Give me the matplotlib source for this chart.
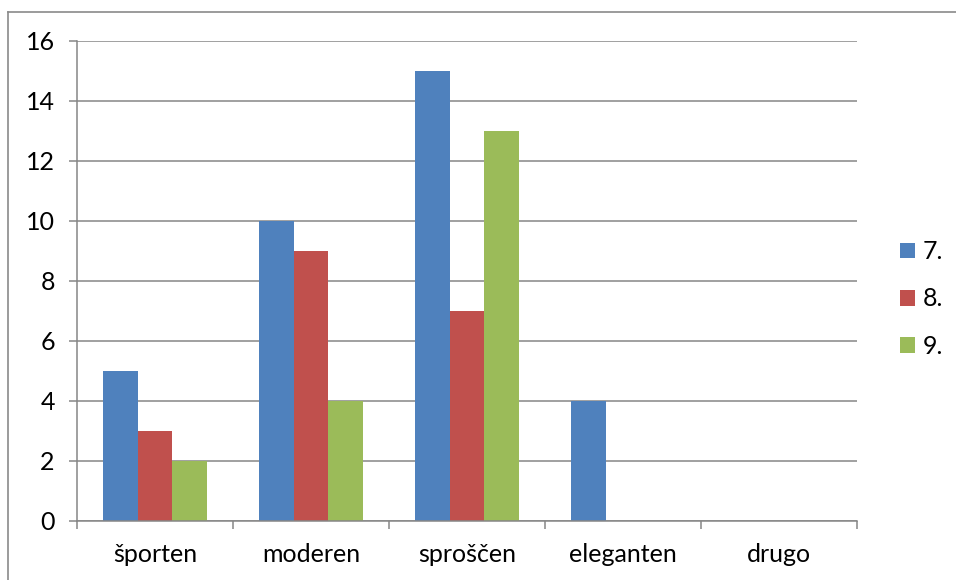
import matplotlib
matplotlib.use("Agg")
import matplotlib.pyplot as plt
import numpy as np
from matplotlib.lines import Line2D
from matplotlib.patches import Patch

categories = ["športen", "moderen", "sproščen", "eleganten", "drugo"]
series_names = ["7.", "8.", "9."]
s7 = [5, 10, 15, 4, 0]
s8 = [3, 9, 7, 0, 0]
s9 = [2, 4, 13, 0, 0]
yticks = [0, 2, 4, 6, 8, 10, 12, 14, 16]
colors = ["#4F81BD", "#C0504D", "#9BBB59"]

plt.rcParams['font.family'] = ['Lato', 'DejaVu Sans']
FS = 18
W, H = 956, 580
fig = plt.figure(figsize=(W / 100, H / 100), dpi=100)
ax = fig.add_axes([77 / W, 1 - 521 / H, (857 - 77) / W, (521 - 41) / H])

x = np.arange(len(categories))
bw = 1 / 4.5
for i, (vals, c) in enumerate(zip([s7, s8, s9], colors)):
    ax.bar(x + (i - 1) * bw, vals, width=bw, color=c, zorder=3, linewidth=0)

ax.set_xlim(-0.5, len(categories) - 0.5)
ax.set_ylim(0, 16)
grid_c = "#868686"
ax.set_yticks(yticks)
ax.set_yticklabels([str(v) for v in yticks], fontsize=FS)
ax.yaxis.grid(True, color=grid_c, linewidth=1.1, zorder=0)
ax.set_xticks(x)
ax.set_xticklabels(categories, fontsize=FS)
ax.set_xticks(np.arange(-0.5, len(categories), 1), minor=True)
ax.tick_params(axis='x', which='major', length=0, pad=16)
ax.tick_params(axis='x', which='minor', length=5.5, width=1.1, color=grid_c, direction='out')
ax.tick_params(axis='y', length=6, width=1.1, color=grid_c, pad=10)
for side in ['top', 'right']:
    ax.spines[side].set_visible(False)
for side in ['left', 'bottom']:
    ax.spines[side].set_color(grid_c)
    ax.spines[side].set_linewidth(1.1)
    ax.spines[side].set_zorder(4)

handles = [Patch(facecolor=c, edgecolor='none') for c in colors]
fs_px = FS * 100 / 72
fig.legend(handles, series_names, loc='center left',
           bbox_to_anchor=(900 / W, 1 - 299 / H), frameon=False, fontsize=FS,
           handlelength=15 / fs_px, handleheight=15 / fs_px,
           handletextpad=0.3, labelspacing=0.97, borderaxespad=0, borderpad=0)

bc = "#8a8a8a"
fig.add_artist(Line2D([7.5 / W, 1], [1 - 11.5 / H] * 2, transform=fig.transFigure, color=bc, linewidth=1.2))
fig.add_artist(Line2D([7.5 / W] * 2, [0, 1 - 11.5 / H], transform=fig.transFigure, color=bc, linewidth=1.2))

fig.savefig("out.png", dpi=100)
